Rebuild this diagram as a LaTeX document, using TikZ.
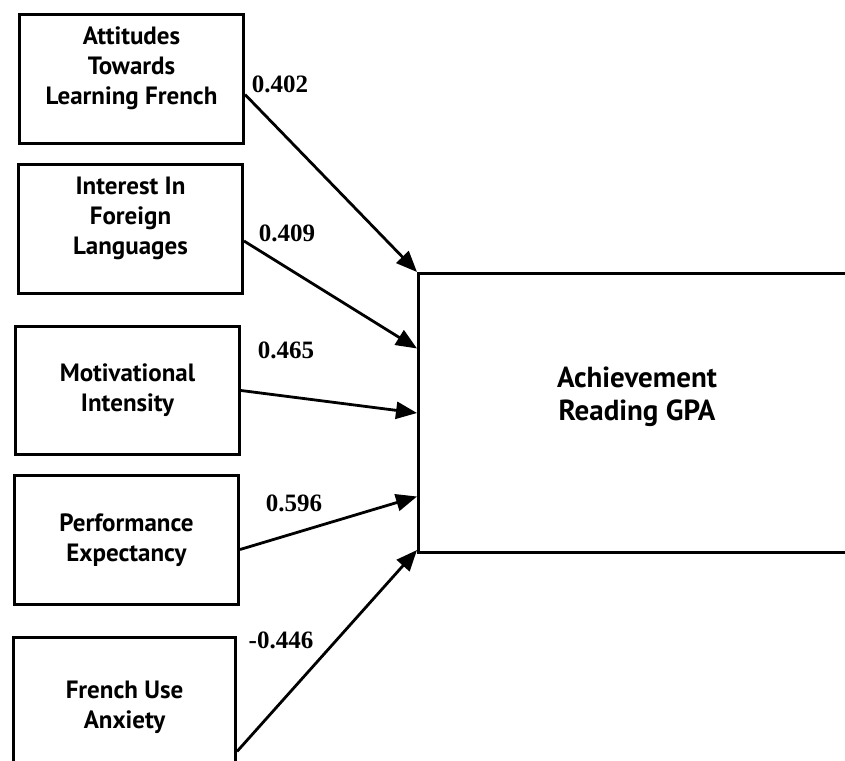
\documentclass[tikz,border=0pt]{standalone}
\usepackage{fontspec}
\setmainfont{PT Sans}
\newfontfamily\numfont{Liberation Serif}
\usetikzlibrary{arrows.meta}
\begin{document}
\begin{tikzpicture}[x=1pt,y=-1pt,
  varbox/.style={draw, line width=3pt, minimum width=224pt, minimum height=129pt,
    anchor=north west, align=center, inner sep=0pt,
    font=\fontsize{25}{30}\selectfont\bfseries},
  outbox/.style={draw, line width=3pt, minimum width=440pt, minimum height=279pt,
    anchor=north west, inner sep=0pt},
  outtext/.style={align=center, font=\fontsize{29}{33}\selectfont\bfseries},
  link/.style={line width=2.8pt, -{Triangle[length=21pt,width=17pt]}},
  coef/.style={font=\numfont\fontsize{25}{28}\selectfont\bfseries}
]
\useasboundingbox (0,0) rectangle (845,760);
\begin{scope}
\clip (0,0) rectangle (845,760);

% predictor boxes
\node[varbox] (att) at (18,13)  {Attitudes\\Towards\\Learning French\\[-12pt]\strut};
\node[varbox] (int) at (17,163) {Interest In\\Foreign\\Languages\\[-12pt]\strut};
\node[varbox, minimum height=128pt] (mot) at (14,325) {Motivational\\Intensity};
\node[varbox] (per) at (13,474) {Performance\\Expectancy};
\node[varbox, minimum width=222pt, minimum height=140pt] (anx) at (12,636) {French Use\\Anxiety};

% outcome box
\node[outbox] (gpa) at (417,272) {};
\node[outtext] (gpalabel) at (637,397) {Achievement\\Reading GPA};

% paths
\draw[link] ([yshift=-15.5pt]att.east) -- (gpa.north west);
\draw[link] ([yshift=-12pt]int.east) -- ([yshift=64.5pt]gpa.west);
\draw[link] (mot.east) -- (gpa.west);
\draw[link] ([yshift=-9.5pt]per.east) -- ([yshift=-83.5pt]gpa.west);
\draw[link] ([yshift=-44pt]anx.east) -- ([yshift=4pt]gpa.south west);

% path coefficients
\node[coef] (c1) at (280,84)  {0.402};
\node[coef] (c2) at (287,233) {0.409};
\node[coef] (c3) at (286,350) {0.465};
\node[coef] (c4) at (294,503) {0.596};
\node[coef] (c5) at (281,640) {-0.446};
\end{scope}
\end{tikzpicture}
\end{document}
